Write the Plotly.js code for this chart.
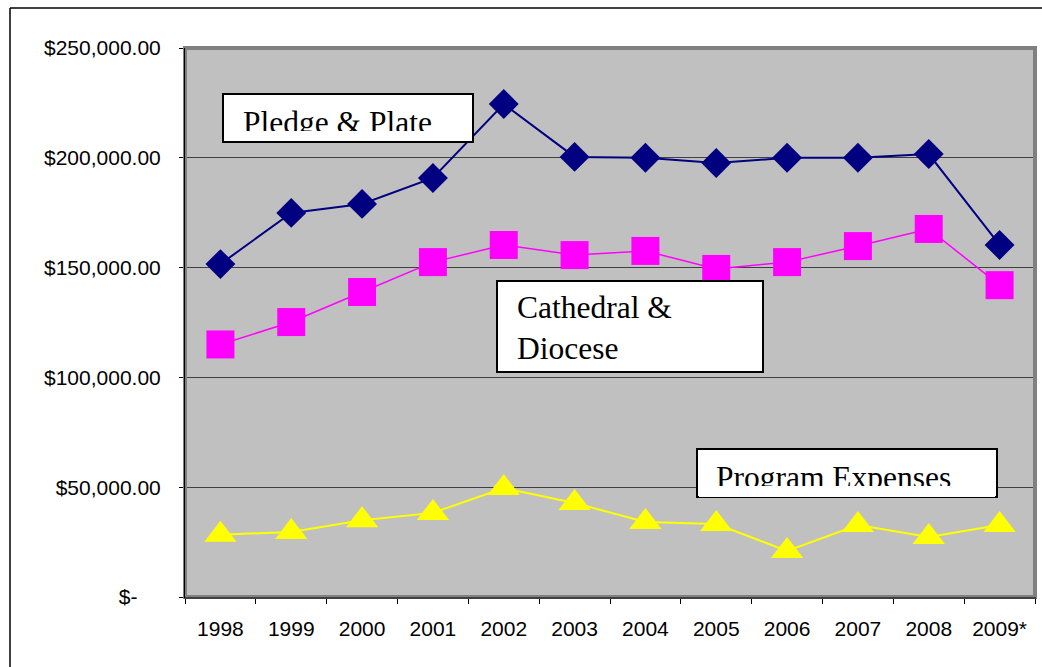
<!DOCTYPE html>
<html>
<head>
<meta charset="utf-8">
<script src="https://cdn.plot.ly/plotly-3.0.1.min.js"></script>
<style>html,body{margin:0;padding:0;background:#fff;}#chart{width:1042px;height:667px;}</style>
</head>
<body>
<div id="chart"></div>
<script>
var years = ['1998','1999','2000','2001','2002','2003','2004','2005','2006','2007','2008','2009*'];
var pledgePlate = [151600, 174900, 179000, 190800, 224500, 200400, 200000, 197600, 200000, 200000, 201700, 160300];
var cathedralDiocese = [115000, 125200, 138900, 152500, 160300, 155700, 157600, 149400, 152500, 159800, 167600, 142000];
var programExpenses = [28400, 29600, 35000, 38300, 49600, 42800, 34200, 33200, 21000, 32800, 27300, 32800];
var yTickVals = [0, 50000, 100000, 150000, 200000, 250000];
var yTickText = ['$-\u00a0\u00a0\u00a0\u00a0', '$50,000.00', '$100,000.00', '$150,000.00', '$200,000.00', '$250,000.00'];

var W = 1042, H = 667, L = 185, R = 1035, T = 48, B = 597;
function X(px){ return (px - L) / (R - L); }
function Y(py){ return (B - py) / (B - T); }

var traces = [
  {x: years, y: pledgePlate, type: 'scatter', mode: 'lines+markers', name: 'Pledge & Plate',
   line: {color: '#000080', width: 2}, marker: {symbol: 'diamond', size: 23, color: '#000080'}},
  {x: years, y: cathedralDiocese, type: 'scatter', mode: 'lines+markers', name: 'Cathedral & Diocese',
   line: {color: '#FF00FF', width: 1.5}, marker: {symbol: 'square', size: 28, color: '#FF00FF'}},
  {x: years, y: programExpenses, type: 'scatter', mode: 'lines+markers', name: 'Program Expenses',
   line: {color: '#FFFF00', width: 2}, marker: {symbol: 'triangle-up', size: 28, color: '#FFFF00'}}
];

function box(x0, y0, x1, y1){
  return {type: 'rect', xref: 'paper', yref: 'paper', x0: X(x0), x1: X(x1), y0: Y(y1), y1: Y(y0),
          line: {color: '#000', width: 2}, fillcolor: '#fff', layer: 'above'};
}
function lineShape(x0, y0, x1, y1, color, width){
  return {type: 'line', xref: 'paper', yref: 'paper', x0: X(x0), x1: X(x1), y0: Y(y0), y1: Y(y1),
          line: {color: color, width: width}, layer: 'above'};
}

var shapes = [
  {type: 'rect', xref: 'paper', yref: 'paper', x0: 0, x1: 1, y0: 0, y1: 1,
   line: {color: '#808080', width: 4}, layer: 'above'},
  lineShape(184.5, 48, 184.5, 598, '#000', 1),
  lineShape(184.5, 598, 1036, 598, '#000', 1),
  lineShape(10, 8, 1042, 8, '#000', 1.5),
  lineShape(10, 8, 10, 667, '#000', 1.5),
  box(223, 94, 473, 142),
  box(497, 281, 763, 372),
  box(697, 449, 997, 497)
];

var serif = 'Liberation Serif, Times New Roman, serif';
function label(text, px, py){
  return {xref: 'paper', yref: 'paper', x: X(px), y: Y(py), xanchor: 'left', yanchor: 'middle',
          text: text, showarrow: false, align: 'left', font: {family: serif, size: 31.5, color: '#000'}};
}
function cover(x0, y0, x1, y1){
  return {xref: 'paper', yref: 'paper', x: X(x0), y: Y(y0), xanchor: 'left', yanchor: 'top',
          text: '\u00a0', showarrow: false, width: x1 - x0, height: y1 - y0, borderpad: 0, borderwidth: 0,
          bgcolor: '#fff', font: {size: 1, color: '#fff'}};
}

var annotations = [
  label('Pledge &amp; Plate', 241, 122),
  cover(225, 131, 471, 141),
  label('Cathedral &amp;<br>Diocese', 515, 328),
  label('Program Expenses', 714, 477),
  cover(699, 485.5, 995, 496)
];

var layout = {
  width: W, height: H,
  margin: {l: L, r: W - R, t: T, b: H - B, pad: 0},
  paper_bgcolor: '#fff', plot_bgcolor: '#C0C0C0',
  showlegend: false,
  font: {family: 'Liberation Sans, Arial, sans-serif', size: 21, color: '#000'},
  xaxis: {type: 'category', range: [-0.5, 11.5], showgrid: false, zeroline: false, showline: false,
          ticks: 'outside', tickson: 'boundaries', ticklen: 6, tickcolor: '#000', tickwidth: 1,
          ticklabelstandoff: 17, tickfont: {size: 21, color: '#000'}, fixedrange: true},
  yaxis: {range: [0, 250000], tickvals: yTickVals, ticktext: yTickText, showgrid: true,
          gridcolor: '#404040', gridwidth: 1, zeroline: false, showline: false,
          ticks: 'outside', ticklen: 5, tickcolor: '#000', tickwidth: 1,
          ticklabelstandoff: 14, tickfont: {size: 21, color: '#000'}, fixedrange: true},
  shapes: shapes,
  annotations: annotations
};

Plotly.newPlot('chart', traces, layout, {displayModeBar: false, staticPlot: true});
</script>
</body>
</html>
